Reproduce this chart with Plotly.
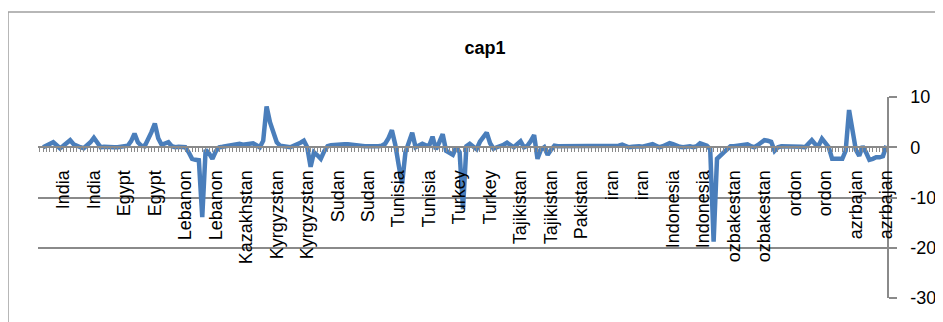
import plotly.graph_objects as go

cap1_values = [
    0.0, 0.3, 0.6, 1.0, 0.4, -0.2, 0.3, 0.8, 1.4, 0.6,
    0.2, 0.0, -0.2, 0.3, 1.0, 1.9, 0.8, 0.0, 0.1, 0.0,
    0.1, 0.0, 0.0, 0.1, 0.3, 0.3, 1.2, 2.7, 1.0, 0.3,
    0.2, 1.5, 3.0, 4.7, 1.8, 0.5, 0.7, 1.0, 0.2, 0.0,
    0.1, 0.0, 0.0, -1.0, -2.3, -2.5, -2.6, -13.9, -0.5, -1.2,
    -2.3, -0.8, 0.0, 0.1, 0.2, 0.2, 0.3, 0.4, 0.7, 0.5,
    0.6, 0.7, 0.8, 0.4, 0.0, 1.3, 8.1, 5.0, 2.7, 1.0,
    0.3, 0.2, 0.0, 0.0, 0.3, 0.5, 0.9, 1.3, 0.0, -3.9,
    -1.0, -1.6, -2.3, -0.8, 0.2, 0.4, 0.5, 0.4, 0.5, 0.6,
    0.6, 0.5, 0.4, 0.2, 0.3, 0.2, 0.2, 0.3, 0.2, 0.2,
    0.3, 0.7, 1.8, 3.4, 0.5, -3.5, -7.3, -1.0, 1.2, 2.9,
    0.0, 0.4, 0.7, 0.4, 0.3, 2.1, -0.4, 1.0, 2.6, -0.7,
    -1.0, -1.5, 0.0, -1.0, -12.3, 0.2, 0.7, 0.2, -0.4, 1.1,
    2.0, 2.9, 0.8, -0.3, 0.0, 0.2, 0.5, 0.9, 0.3, 0.0,
    0.6, 1.2, 0.0, 0.3, 1.2, 2.4, -2.3, -0.5, 0.0, -1.5,
    -0.5, 0.3, 0.2, 0.2, 0.2, 0.2, 0.2, 0.2, 0.2, 0.2,
    0.2, 0.2, 0.2, 0.2, 0.2, 0.2, 0.2, 0.2, 0.3, 0.2,
    0.3, 0.5, 0.2, 0.0, 0.1, 0.2, 0.2, 0.1, 0.3, 0.5,
    0.6, 0.3, 0.0, 0.2, 0.4, 0.8, 0.6, 0.3, 0.1, 0.0,
    0.1, 0.2, 0.0, 0.2, 0.8, 0.6, 0.3, -0.4, -18.8, -2.3,
    -1.5, -1.0, -0.4, 0.2, 0.2, 0.3, 0.3, 0.5, 0.6, 0.2,
    0.0, 0.4, 1.0, 1.4, 1.3, 1.1, -0.7, 0.0, 0.2, 0.2,
    0.3, 0.3, 0.2, 0.2, 0.1, 0.0, 0.6, 1.4, 0.6, 0.3,
    1.7, 1.0, 0.0, -2.3, -2.4, -2.3, -2.3, -0.7, 7.4, 2.7,
    -0.5, -1.7, 0.2, -1.0, -2.5, -2.3, -2.0, -2.0, -1.8, 0.3,
]

# category tick labels shown on the axis (every 9th observation)
tick_labels = [
    "India", "India", "Egypt", "Egypt", "Lebanon", "Lebanon", "Kazakhstan",
    "Kyrgyzstan", "Kyrgyzstan", "Sudan", "Sudan", "Tunisia", "Tunisia",
    "Turkey", "Turkey", "Tajikistan", "Tajikistan", "Pakistan", "iran", "iran",
    "Indonesia", "Indonesia", "ozbakestan", "ozbakestan", "ordon", "ordon",
    "azrbajan", "azrbajan",
]
label_first_index = 6
label_interval = 9

y_ticks = [10, 0, -10, -20, -30]
y_tick_labels = ["10", "0", "-10", "-20", "-30"]

obs_index = list(range(len(cap1_values)))
tick_positions = [label_first_index + label_interval * k for k in range(len(tick_labels))]

# page body has an 8px margin; figure coordinates are offset by it
OFF = 8
W, H = 943 - OFF, 322 - OFF
L, R, T, B = 38 - OFF, 943 - 887, 97 - OFF, 322 - 298
pw = W - L - R
ph = H - T - B

def px_to_paper_x(px):
    return (px - OFF - L) / pw

def px_to_paper_y(py):
    return (H - B - (py - OFF)) / ph

GRID = "#8a8a8a"
FONT = "Liberation Sans, Arial, sans-serif"

fig = go.Figure()
fig.add_trace(go.Scatter(
    x=obs_index, y=cap1_values, mode="lines",
    line=dict(color="#4a7ebb", width=4.5),
    hoverinfo="skip", showlegend=False,
))

fig.update_layout(
    width=W, height=H,
    margin=dict(l=L, r=R, t=T, b=B, autoexpand=False),
    paper_bgcolor="white", plot_bgcolor="white",
    font=dict(family=FONT, size=18, color="black"),
    showlegend=False,
    title=dict(
        text="<b>cap1</b>", font=dict(family=FONT, size=18, color="black"),
        x=px_to_paper_x(485), xref="paper", xanchor="center",
        y=1 - (48 - OFF) / H, yref="container", yanchor="middle",
        automargin=False,
    ),
    xaxis=dict(
        range=[-1.5, 249.2],
        anchor="free", position=0.75,
        automargin=False,
        tickmode="array", tickvals=tick_positions, ticktext=tick_labels,
        tickangle=-90,
        ticks="outside", ticklen=4, tickcolor=GRID, tickwidth=1,
        ticklabelstandoff=11,
        showline=True, linecolor=GRID, linewidth=1.5,
        showgrid=False, zeroline=False,
        minor=dict(tickmode="linear", tick0=0, dtick=1, ticks="outside",
                   ticklen=4, tickcolor=GRID, tickwidth=1, showgrid=False),
        tickfont=dict(family=FONT, size=18, color="black"),
    ),
    yaxis=dict(
        range=[-30, 10], side="right",
        automargin=False,
        tickmode="array", tickvals=y_ticks, ticktext=y_tick_labels,
        ticks="outside", ticklen=8, tickcolor=GRID, tickwidth=1.5,
        ticklabelstandoff=10,
        showline=True, linecolor=GRID, linewidth=1.5,
        showgrid=True, gridcolor=GRID, gridwidth=1.5,
        zeroline=False,
        tickfont=dict(family=FONT, size=18, color="black"),
    ),
    shapes=[dict(
        type="rect", xref="paper", yref="paper",
        x0=px_to_paper_x(8), x1=px_to_paper_x(1000),
        y0=px_to_paper_y(400), y1=px_to_paper_y(12),
        line=dict(color="#a0a0a0", width=1.5), fillcolor="rgba(0,0,0,0)",
        layer="below",
    )],
)

fig.write_html("out.html")
